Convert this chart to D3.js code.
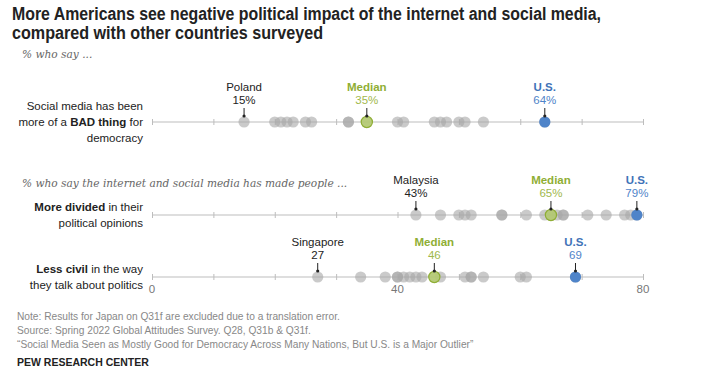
<!DOCTYPE html>
<html>
<head>
<meta charset="utf-8">
<script src="https://cdn.jsdelivr.net/npm/d3@7"></script>
<style>
  body { margin: 0; background: #fff; }
  svg { display: block; font-family: "Liberation Sans", Arial, sans-serif; }
  .title { font-family: "Liberation Sans", Arial, sans-serif; font-weight: bold; font-size: 18px; fill: #222; }
  .sub { font-family: "DejaVu Serif", Georgia, serif; font-style: italic; font-size: 10.6px; fill: #666; }
  .rowlab { font-size: 11.5px; fill: #222; }
  .note { font-size: 10.2px; fill: #888; }
</style>
</head>
<body>
<div id="chart"></div>
<script>
// values per row (one dot per country)
var badThing = [15, 20, 21, 22, 23, 25, 26, 32, 32, 35, 40, 41, 46, 47, 48, 50, 51, 54, 64];
var moreDivided = [43, 47, 50, 51, 52, 57, 57, 61, 64, 65, 65, 66, 67, 67, 71, 74, 77, 78, 79];
var lessCivil = [27, 34, 38, 40, 40, 41, 42, 43, 44, 46, 47, 51, 52, 52, 54, 60, 61, 69];

var lowName = ['Poland', 'Malaysia', 'Singapore'];
var lowValue = [15, 43, 27];
var medianValue = [35, 65, 46];
var usValue = [64, 79, 69];
var pctSuffix = ['%', '%', ''];
var axisTicks = [0, 40, 80];

var grey = '#a6a6a6', green = '#8fae35', blue = '#3f73b8';

var W = 708, H = 370;
var svg = d3.select('#chart').append('svg').attr('width', W).attr('height', H);

var x = d3.scaleLinear().domain([0, 80]).range([152, 643]);

// header (condensed look via textLength)
svg.append('text').attr('class', 'title').attr('x', 12).attr('y', 20)
    .attr('textLength', 589).attr('lengthAdjust', 'spacingAndGlyphs')
    .text('More Americans see negative political impact of the internet and social media,');
svg.append('text').attr('class', 'title').attr('x', 12).attr('y', 39)
    .attr('textLength', 311).attr('lengthAdjust', 'spacingAndGlyphs')
    .text('compared with other countries surveyed');
svg.append('text').attr('class', 'sub').attr('x', 22).attr('y', 58).text('% who say ...');
svg.append('text').attr('class', 'sub').attr('x', 22).attr('y', 187)
    .text('% who say the internet and social media has made people ...');

var rows = [
    {vals: badThing, y: 122, lines: [[['Social media has been', 0]], [['more of a ', 0], ['BAD thing', 1], [' for', 0]], [['democracy', 0]]]},
    {vals: moreDivided, y: 215, lines: [[['More divided', 1], [' in their', 0]], [['political opinions', 0]]]},
    {vals: lessCivil, y: 277, lines: [[['Less civil', 1], [' in the way', 0]], [['they talk about politics', 0]]]}
];

rows.forEach(function(r, i){
    var g = svg.append('g');

    // row label
    var n = r.lines.length;
    r.lines.forEach(function(line, j){
        var t = g.append('text').attr('class', 'rowlab')
            .attr('x', 143)
            .attr('y', r.y + 4 + (j - (n - 1) / 2) * 16)
            .attr('text-anchor', 'end');
        line.forEach(function(p){
            t.append('tspan').attr('font-weight', p[1] ? 'bold' : null).text(p[0]);
        });
    });

    // base line + ticks
    g.append('line').attr('x1', x(0)).attr('x2', x(80))
        .attr('y1', r.y).attr('y2', r.y)
        .attr('stroke', '#bdbdbd').attr('stroke-width', 1);
    g.selectAll('.tick').data(d3.range(0, 81, 10)).enter().append('line')
        .attr('x1', function(d){ return x(d) + 0.5 }).attr('x2', function(d){ return x(d) + 0.5 })
        .attr('y1', r.y - 3).attr('y2', r.y + 3)
        .attr('stroke', '#bdbdbd');

    // countries
    g.selectAll('.dot').data(r.vals).enter().append('circle')
        .attr('cx', function(d){ return x(d) })
        .attr('cy', r.y)
        .attr('r', 5.6)
        .attr('fill', grey)
        .attr('fill-opacity', 0.6);

    // median + US
    g.append('circle').attr('cx', x(medianValue[i])).attr('cy', r.y).attr('r', 5.6)
        .attr('fill', '#b5cc6e').attr('fill-opacity', 0.85)
        .attr('stroke', green).attr('stroke-width', 1.2);
    g.append('circle').attr('cx', x(usValue[i])).attr('cy', r.y).attr('r', 5.6)
        .attr('fill', '#4f84c9');

    // annotations
    var ann = [
        {v: lowValue[i], t1: lowName[i], c1: '#222', w1: 'normal', c2: '#222'},
        {v: medianValue[i], t1: 'Median', c1: green, w1: 'bold', c2: '#9fb84d'},
        {v: usValue[i], t1: 'U.S.', c1: blue, w1: 'bold', c2: '#4f84c9'}
    ];
    ann.forEach(function(a){
        var cx = x(a.v);
        g.append('text').attr('x', cx).attr('y', r.y - 31).attr('text-anchor', 'middle')
            .attr('font-size', 11.5).attr('font-weight', a.w1).attr('fill', a.c1).text(a.t1);
        g.append('text').attr('x', cx).attr('y', r.y - 18).attr('text-anchor', 'middle')
            .attr('font-size', 11.5).attr('fill', a.c2).text(a.v + pctSuffix[i]);
        g.append('line').attr('x1', cx).attr('x2', cx)
            .attr('y1', r.y - 14).attr('y2', r.y - 6)
            .attr('stroke', '#222').attr('stroke-width', 1);
        g.append('circle').attr('cx', cx).attr('cy', r.y - 6).attr('r', 1.6).attr('fill', '#222');
    });
});

// axis labels under last row
svg.selectAll('.axlab').data(axisTicks).enter().append('text')
    .attr('x', function(d){ return x(d) })
    .attr('y', 293)
    .attr('text-anchor', 'middle')
    .attr('font-size', 11.5)
    .attr('fill', '#777')
    .text(function(d){ return d });

// notes
var notes = [
    'Note: Results for Japan on Q31f are excluded due to a translation error.',
    'Source: Spring 2022 Global Attitudes Survey. Q28, Q31b & Q31f.',
    '\u201cSocial Media Seen as Mostly Good for Democracy Across Many Nations, But U.S. is a Major Outlier\u201d'
];
svg.selectAll('.note').data(notes).enter().append('text')
    .attr('class', 'note').attr('x', 17)
    .attr('y', function(d, i){ return 320 + i * 14 })
    .text(function(d){ return d });
svg.append('text').attr('x', 17).attr('y', 366)
    .attr('font-size', 10.5).attr('font-weight', 'bold').attr('fill', '#222')
    .text('PEW RESEARCH CENTER');
</script>
</body>
</html>
